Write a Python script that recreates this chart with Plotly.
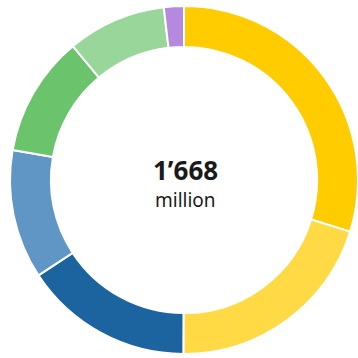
import plotly.graph_objects as go

labels = ["A", "B", "C", "D", "E", "F", "G"]
values = [497, 338, 262, 200, 187, 153, 31]
colors = ["#FFCC00", "#FFDA45", "#1B64A0", "#5F96C5", "#6BC46B", "#99D699", "#B689E0"]
total_label = "1’668"
unit_label = "million"

fig = go.Figure(go.Pie(
    labels=labels,
    values=values,
    hole=0.765,
    sort=False,
    direction="clockwise",
    rotation=0,
    marker=dict(colors=colors, line=dict(color="white", width=2)),
    textinfo="none",
    hoverinfo="label+value",
    showlegend=False,
))

fig.add_annotation(x=0.5, y=0.5, xref="paper", yref="paper", text="<b>" + total_label + "</b>",
                   showarrow=False, yshift=10, xshift=1,
                   font=dict(family="Noto Sans", size=26, color="#1a1a1a"))
fig.add_annotation(x=0.5, y=0.5, xref="paper", yref="paper", text=unit_label,
                   showarrow=False, yshift=-20, xshift=1,
                   font=dict(family="Noto Sans", size=19, color="#1a1a1a"))

fig.update_layout(width=358, height=358, margin=dict(l=10, r=0, t=6, b=4),
                  paper_bgcolor="white", plot_bgcolor="white")
fig.write_html("out.html")
